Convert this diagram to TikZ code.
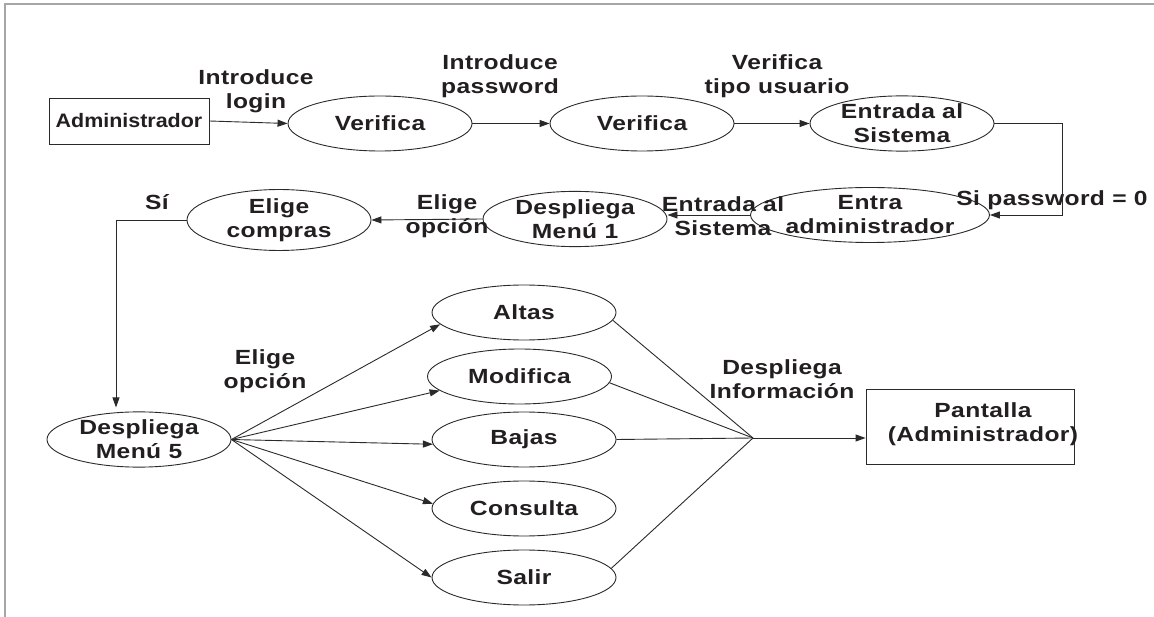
\documentclass[tikz,border=0pt]{standalone}
\usepackage{fontspec}
\usetikzlibrary{shapes.geometric,arrows.meta}
\newfontfamily\labfont[FakeStretch=1.2,LetterSpace=2]{Liberation Sans Bold}
\newfontfamily\boxfont[FakeStretch=1.1]{Liberation Sans Bold}
\definecolor{ink}{HTML}{231F20}
\definecolor{wire}{HTML}{2A2A2A}
\begin{document}
\begin{tikzpicture}[x=1pt,y=-1pt,
  txt/.style={font=\labfont\fontsize{20.5}{24}\selectfont, text=ink, align=center, inner sep=0pt},
  oval/.style={txt, draw=wire, line width=0.9pt, ellipse, minimum width=184pt, minimum height=55pt},
  rect/.style={draw=wire, line width=0.9pt, rectangle, inner sep=0pt},
  flow/.style={draw=wire, line width=0.9pt, -{Triangle[length=10pt,width=7pt]}},
  wireln/.style={draw=wire, line width=0.9pt}]
\useasboundingbox (0,0) rectangle (1154,617);
% frame (top and left edges)
\draw[gray!70, line width=2pt] (5,617) -- (5,4) -- (1154,4);

% top row
\node[rect, minimum width=160pt, minimum height=46pt, font=\boxfont\fontsize{19.5}{24}\selectfont, text=ink] (adm) at (129,121) {Administrador};
\node[oval] (ver1) at (380,123.5) {Verifica};
\node[oval] (ver2) at (642,123.5) {Verifica};
\node[oval] (ent) at (902,123.5) {Entrada al\\Sistema};

% second row
\node[oval] (entadm) at (870,215) {Entra\\administrador};
\node[oval] (m1) at (575,219) {Despliega\\Menú 1};
\node[oval] (compras) at (279,220) {Elige\\compras};

% menu 5 and options
\node[oval] (m5) at (139,439.5) {Despliega\\Menú 5};
\node[oval] (altas) at (524,312.5) {Altas};
\node[oval] (modif) at (519.5,376.5) {Modifica};
\node[oval] (bajas) at (524,439.5) {Bajas};
\node[oval] (cons) at (524,508.5) {Consulta};
\node[oval] (salir) at (524,577.5) {Salir};

% output screen
\node[rect, minimum width=208pt, minimum height=75pt] (pant) at (970,426.5) {};
\node[txt] (panttxt) at (983,424) {Pantalla\\(Administrador)};

\coordinate (jn) at (753,438);

% labels
\node[txt] (l1) at (256,91) {Introduce\\login};
\node[txt] (l2) at (500,76) {Introduce\\password};
\node[txt] (l3) at (777,76) {Verifica\\tipo usuario};
\node[txt] (l4) at (1052,200) {Si password = 0};
\node[txt] (l5) at (723,216) {Entrada al\\Sistema};
\node[txt] (l6) at (447,216) {Elige\\opción};
\node[txt] (l7) at (157,202) {Sí};
\node[txt] (l8) at (265,371) {Elige\\opción};
\node[txt] (l9) at (782,379) {Despliega\\Información};

% connectors
\draw[flow] (adm.east) -- (ver1.west);
\draw[flow] (ver1.east) -- (ver2.west);
\draw[flow] (ver2.east) -- (ent.west);
\draw[flow] (ent.east) -- ++(68,0) |- (entadm.east);
\draw[flow] (entadm.west) -- (entadm.west -| m1.east);
\draw[flow] (m1.west) -- (compras.east);
\draw[flow] (compras.west) -| ([xshift=-23pt,yshift=4pt]m5.north);

\draw[flow] (m5.east) -- (altas.188);
\draw[flow] (m5.east) -- (modif.190);
\draw[flow] (m5.east) -- (bajas.183);
\draw[flow] (m5.east) -- (cons.177);
\draw[flow] (m5.east) -- (salir.180);

\draw[wireln] (altas.-5) -- (jn);
\draw[wireln] (modif.-4) -- (jn);
\draw[wireln] (bajas.east) -- (jn);
\draw[wireln] (salir.6) -- (jn);
\draw[flow] (jn) -- (jn -| pant.west);
\end{tikzpicture}
\end{document}
